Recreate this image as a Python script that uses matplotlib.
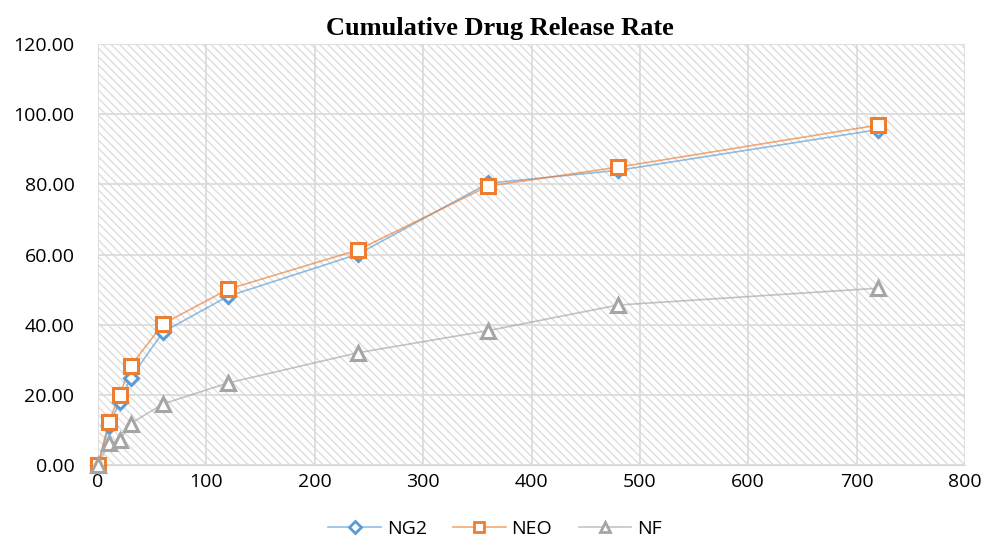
import matplotlib.pyplot as plt
from matplotlib.colors import to_rgba
from matplotlib.lines import Line2D
from matplotlib.patches import Rectangle

# release time (min) and cumulative release (%)
time_min = [0, 10, 20, 30, 60, 120, 240, 360, 480, 720]
ng2 = [0, 11.0, 18.0, 24.8, 37.9, 48.1, 60.1, 80.3, 84.0, 95.6]
neo = [0, 12.3, 20.0, 28.2, 40.2, 50.1, 61.3, 79.5, 84.9, 96.9]
nf = [0, 6.2, 7.0, 11.8, 17.4, 23.4, 32.0, 38.3, 45.6, 50.4]

series = [
    ("NG2", ng2, "#5B9BD5", "D", 7),
    ("NEO", neo, "#ED7D31", "s", 10),
    ("NF", nf, "#A5A5A5", "^", 10),
]

plt.rcParams["font.family"] = ["Open Sans", "DejaVu Sans"]
plt.rcParams["hatch.linewidth"] = 1.0

fig = plt.figure(figsize=(9.87, 5.42), dpi=100)
ax = fig.add_axes([98 / 987, 1 - 465 / 542, (965 - 98) / 987, (465 - 44) / 542])

# hatched plot area
ax.add_patch(Rectangle((0, 0), 1, 1, transform=ax.transAxes, facecolor="white",
                       edgecolor="#dedede", hatch="\\\\\\\\", linewidth=0, zorder=0))

handles = []
for name, vals, color, marker, ms in series:
    line_col = to_rgba(color, 0.65)
    ax.plot(time_min, vals, color=line_col, linewidth=1.2, zorder=3)
    ax.plot(time_min, vals, linestyle="none", marker=marker, markersize=ms,
            markerfacecolor="white", markeredgecolor=color, markeredgewidth=2.2,
            zorder=4, clip_on=False)
    handles.append(Line2D([], [], color=line_col, linewidth=1.2, marker=marker,
                          markersize=7 if marker != "D" else 6, markerfacecolor="white",
                          markeredgecolor=color, markeredgewidth=2, label=name))

ax.set_xlim(0, 800)
ax.set_ylim(0, 120)
ax.set_xticks(range(0, 801, 100))
ax.set_yticks(range(0, 121, 20))
ax.set_yticklabels([f"{v:.2f}" for v in range(0, 121, 20)])
ax.grid(True, color="#d9d9d9", linewidth=1.2, zorder=1)
ax.set_axisbelow(True)
for side in ["top", "right", "left"]:
    ax.spines[side].set_visible(False)
ax.spines["bottom"].set_color("#d9d9d9")
ax.tick_params(axis="both", length=0, labelsize=14, colors="#000000")
ax.tick_params(axis="y", pad=17)
ax.tick_params(axis="x", pad=6)

fig.text(500 / 987, 1 - 28 / 542, "Cumulative Drug Release Rate", ha="center", va="center",
         fontfamily="Liberation Serif", fontweight="bold", fontsize=19)

fig.legend(handles=handles, loc="center", bbox_to_anchor=(495 / 987, 1 - 529 / 542), ncol=3,
           frameon=False, fontsize=14, handlelength=2.7, columnspacing=1.35, handletextpad=0.3)

fig.savefig("out.png", dpi=100, facecolor="white")
